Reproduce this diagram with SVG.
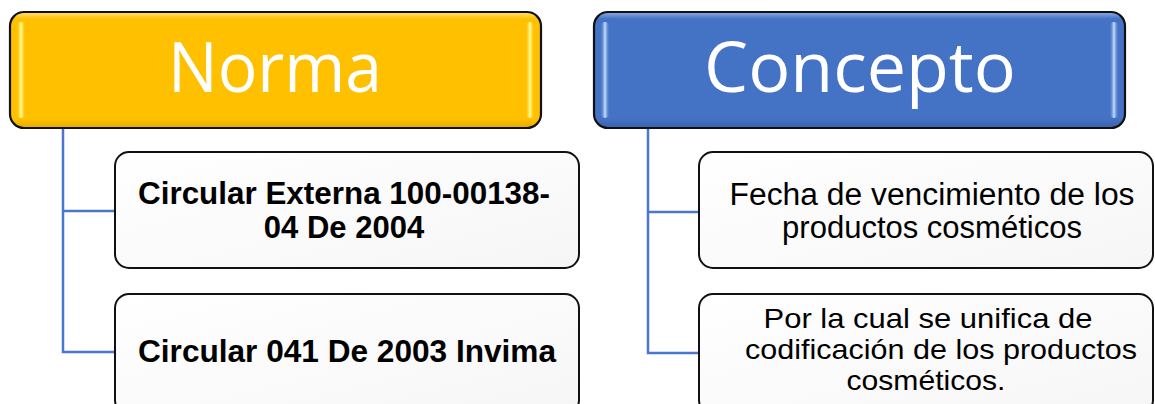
<svg xmlns="http://www.w3.org/2000/svg" width="1155" height="404" viewBox="0 0 1155 404">
  <defs>
    <linearGradient id="goldFill" x1="0" y1="0" x2="0" y2="1">
      <stop offset="0" stop-color="#FFE27A"/>
      <stop offset="0.06" stop-color="#FFC000"/>
      <stop offset="0.92" stop-color="#FFC000"/>
      <stop offset="1" stop-color="#E6AC00"/>
    </linearGradient>
    <linearGradient id="blueFill" x1="0" y1="0" x2="0" y2="1">
      <stop offset="0" stop-color="#8FAEE6"/>
      <stop offset="0.06" stop-color="#4472C4"/>
      <stop offset="0.92" stop-color="#4472C4"/>
      <stop offset="1" stop-color="#3A63AE"/>
    </linearGradient>
    <linearGradient id="goldShine" x1="0" y1="0" x2="1" y2="0">
      <stop offset="0" stop-color="#FFC000" stop-opacity="0"/>
      <stop offset="0.5" stop-color="#FFFF9A"/>
      <stop offset="1" stop-color="#FFC000" stop-opacity="0"/>
    </linearGradient>
    <linearGradient id="blueShine" x1="0" y1="0" x2="1" y2="0">
      <stop offset="0" stop-color="#4472C4" stop-opacity="0"/>
      <stop offset="0.5" stop-color="#C9E0FF"/>
      <stop offset="1" stop-color="#4472C4" stop-opacity="0"/>
    </linearGradient>
    <linearGradient id="cardFill" x1="0" y1="0" x2="1" y2="1">
      <stop offset="0" stop-color="#FFFFFF"/>
      <stop offset="1" stop-color="#F6F6F6"/>
    </linearGradient>
  </defs>
  <style>
    .head { stroke: #111; stroke-width: 2.2; }
    .card { fill: url(#cardFill); stroke: #111; stroke-width: 2; }
    .headText { font-family: "Open Sans", "Noto Sans", sans-serif; font-size: 70px; fill: #FFFFFF; text-anchor: middle; }
    .boldText { font-family: "Liberation Sans", Arial, sans-serif; font-weight: bold; font-size: 31px; fill: #000; text-anchor: middle; }
    .plainText { font-family: "Liberation Sans", Arial, sans-serif; font-size: 31px; fill: #000; text-anchor: middle; }
    .tight { font-size: 28px; }
    .link { fill: none; stroke: #4A76CC; stroke-width: 2.5; }
  </style>

  <!-- connectors -->
  <g id="connectors">
    <path class="link" d="M63 128 V352 H115 M63 211 H115"/>
    <path class="link" d="M648 128 V353 H699 M648 212 H699"/>
  </g>

  <!-- heading: Norma -->
  <g id="norma">
    <rect class="head" x="10" y="12" width="531" height="116" rx="14" fill="url(#goldFill)"/>
    <rect x="16" y="22" width="10" height="96" rx="5" fill="url(#goldShine)"/>
    <rect x="525" y="22" width="10" height="96" rx="5" fill="url(#goldShine)"/>
    <text class="headText" x="275" y="92" textLength="214" lengthAdjust="spacingAndGlyphs">Norma</text>
  </g>

  <!-- heading: Concepto -->
  <g id="concepto">
    <rect class="head" x="594" y="12" width="531" height="116" rx="14" fill="url(#blueFill)"/>
    <rect x="600" y="22" width="10" height="96" rx="5" fill="url(#blueShine)"/>
    <rect x="1109" y="22" width="10" height="96" rx="5" fill="url(#blueShine)"/>
    <text class="headText" x="860" y="92">Concepto</text>
  </g>

  <!-- Norma items -->
  <g id="norma-item-1">
    <rect class="card" x="115" y="152" width="464" height="116" rx="14"/>
    <text class="boldText" x="344" y="204" textLength="412" lengthAdjust="spacingAndGlyphs">Circular Externa 100-00138-</text>
    <text class="boldText" x="344" y="238">04 De 2004</text>
  </g>
  <g id="norma-item-2">
    <rect class="card" x="115" y="294" width="464" height="120" rx="14"/>
    <text class="boldText" x="347" y="362" textLength="418" lengthAdjust="spacingAndGlyphs">Circular 041 De 2003 Invima</text>
  </g>

  <!-- Concepto items -->
  <g id="concepto-item-1">
    <rect class="card" x="699" y="152" width="454" height="116" rx="14"/>
    <text class="plainText" x="932" y="205" textLength="405" lengthAdjust="spacingAndGlyphs">Fecha de vencimiento de los</text>
    <text class="plainText" x="932" y="238">productos cosméticos</text>
  </g>
  <g id="concepto-item-2">
    <rect class="card" x="699" y="294" width="454" height="120" rx="14"/>
    <text class="plainText tight" x="928" y="328" textLength="329" lengthAdjust="spacingAndGlyphs">Por la cual se unifica de</text>
    <text class="plainText tight" x="941" y="359" textLength="392" lengthAdjust="spacingAndGlyphs">codificación de los productos</text>
    <text class="plainText tight" x="926" y="390" textLength="159" lengthAdjust="spacingAndGlyphs">cosméticos.</text>
  </g>
</svg>
